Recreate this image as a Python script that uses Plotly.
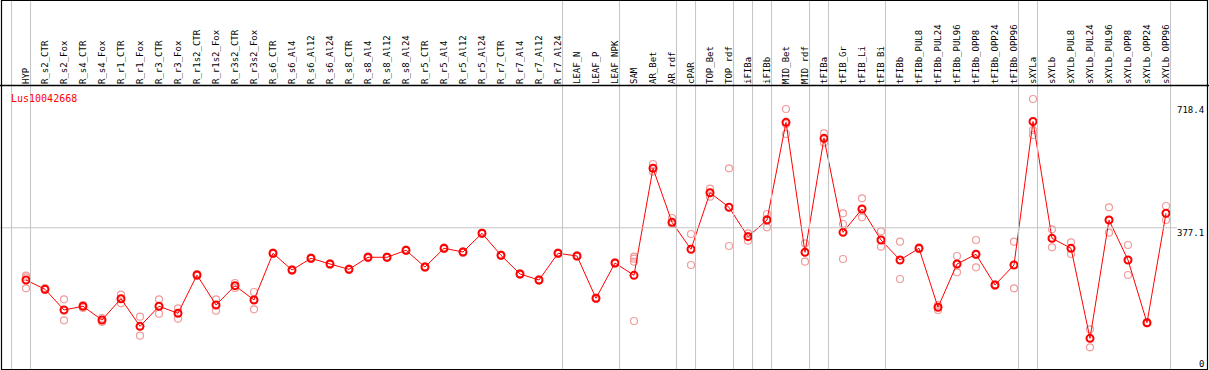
import plotly.graph_objects as go

gene_id = "Lus10042668"

samples = [
    "HYP", "R_s2_CTR", "R_s2_Fox", "R_s4_CTR", "R_s4_Fox", "R_r1_CTR", "R_r1_Fox",
    "R_r3_CTR", "R_r3_Fox", "R_r1s2_CTR", "R_r1s2_Fox", "R_r3s2_CTR", "R_r3s2_Fox",
    "R_s6_CTR", "R_s6_Al4", "R_s6_Al12", "R_s6_Al24", "R_s8_CTR", "R_s8_Al4",
    "R_s8_Al12", "R_s8_Al24", "R_r5_CTR", "R_r5_Al4", "R_r5_Al12", "R_r5_Al24",
    "R_r7_CTR", "R_r7_Al4", "R_r7_Al12", "R_r7_Al24", "LEAF_N", "LEAF_P", "LEAF_NPK",
    "SAM", "AR_Bet", "AR_rdf", "cPAR", "TOP_Bet", "TOP_rdf", "iFIBa", "iFIBb",
    "MID_Bet", "MID_rdf", "tFIBa", "tFIB_Gr", "tFIB_Li", "tFIB_Bi", "tFIBb",
    "tFIBb_PUL8", "tFIBb_PUL24", "tFIBb_PUL96", "tFIBb_OPP8", "tFIBb_OPP24",
    "tFIBb_OPP96", "sXYLa", "sXYLb", "sXYLb_PUL8", "sXYLb_PUL24", "sXYLb_PUL96",
    "sXYLb_OPP8", "sXYLb_OPP24", "sXYLb_OPP96",
]

means = [
    238.6, 213.9, 159.1, 168.9, 132.5, 189.0, 115.8, 168.9, 150.3, 251.8, 172.3,
    223.5, 185.6, 309.4, 265.1, 296.1, 281.0, 266.9, 298.8, 298.8, 317.3, 273.0,
    322.6, 312.8, 362.4, 304.1, 254.5, 238.6, 309.4, 302.2, 190.1, 283.6, 251.0,
    534.7, 391.5, 320.0, 470.0, 431.3, 353.4, 397.6, 656.6, 312.0, 614.2, 365.0,
    426.8, 344.6, 291.6, 322.6, 166.2, 281.0, 306.7, 225.3, 278.3, 658.7, 349.1,
    322.6, 84.0, 397.6, 291.6, 125.4, 415.4,
]

replicates = [
    [250.0, 245.7, 216.6], [217.4, 212.1, 213.4], [187.4, 159.1, 131.7],
    [172.3, 164.4, 169.7], [137.8, 127.2, 132.5], [199.6, 176.8, 188.2],
    [141.3, 90.9, 115.3], [187.4, 149.2, 169.7], [163.6, 136.0, 151.1],
    [254.5, 249.2, 251.8], [187.4, 157.2, 172.3], [230.6, 217.4, 222.7],
    [206.8, 160.9, 188.2], [311.0, 307.8, 309.4], [267.0, 263.2, 265.1],
    [298.0, 294.2, 296.1], [283.0, 279.0, 281.0], [269.0, 264.8, 266.9],
    [300.8, 296.8, 298.8], [300.5, 297.1, 298.8], [319.2, 315.4, 317.3],
    [275.0, 271.0, 273.0], [324.6, 320.6, 322.6], [314.8, 310.8, 312.8],
    [364.2, 360.6, 362.4], [306.0, 302.2, 304.1], [256.5, 252.5, 254.5],
    [240.5, 236.7, 238.6], [311.2, 307.6, 309.4], [304.0, 300.4, 302.2],
    [192.0, 188.2, 190.1], [285.5, 281.7, 283.6], [300.3, 295.0, 287.1, 129.9],
    [546.1, 525.7, 535.5], [402.9, 387.0, 392.3], [360.5, 278.3, 320.8],
    [480.6, 459.4, 470.0], [534.7, 328.7, 431.3], [362.4, 342.8, 355.2],
    [413.5, 378.3, 400.3], [691.9, 625.6, 652.1], [335.9, 287.1, 312.8],
    [627.5, 602.6, 613.7], [415.4, 387.0, 294.2], [455.2, 404.8, 425.5],
    [367.7, 326.9, 344.6], [340.1, 241.2, 291.6], [325.0, 320.2, 322.6],
    [172.3, 159.1, 167.0], [302.2, 259.0, 281.0], [344.6, 272.2, 304.9],
    [227.0, 223.6, 225.3], [340.1, 216.6, 278.3], [718.4, 636.2, 623.0],
    [373.0, 325.3, 348.6], [338.5, 307.5, 322.1], [107.9, 60.2, 83.5],
    [431.3, 364.0, 397.6], [331.4, 251.8, 291.6], [127.0, 123.8, 125.4],
    [434.7, 397.6, 414.9],
]

# a separator is drawn after each of these samples (and before the first one)
group_ends = ["HYP", "R_r7_Al24", "LEAF_NPK", "AR_rdf", "cPAR", "TOP_rdf", "iFIBa",
              "iFIBb", "MID_rdf", "tFIBa", "tFIB_Bi", "tFIBb_OPP96", "sXYLa",
              "sXYLb_OPP96"]

grid_value = 377.1
axis_labels = ["0", "377.1", "718.4"]
axis_values = [0, 377.1, 718.4]

RED = "#ff0000"
PINK = "#f09c9c"
GRAY = "#c4c4c4"
MONO = "DejaVu Sans Mono"

W, H = 1209, 370
TOP = 85
x_idx = list(range(len(samples)))

fig = go.Figure()

rx, ry = [], []
for i, reps in enumerate(replicates):
    for v in reps:
        rx.append(i)
        ry.append(v)

fig.add_trace(go.Scatter(
    x=rx, y=ry, mode="markers", hoverinfo="skip",
    marker=dict(symbol="circle-open", size=7, color=PINK, line=dict(width=1.2, color=PINK)),
))
fig.add_trace(go.Scatter(
    x=x_idx, y=means, mode="lines+markers",
    line=dict(color=RED, width=1),
    marker=dict(symbol="circle-open", size=7, color=RED, line=dict(width=2, color=RED)),
))

shapes = []
# vertical group separators spanning the full height
sep_pos = [-1] + [samples.index(s) for s in group_ends]
top_paper = 1 + TOP / (H - TOP)
for k in sep_pos:
    shapes.append(dict(type="line", xref="x", yref="paper", x0=k + 0.24, x1=k + 0.24,
                       y0=0, y1=top_paper, line=dict(color=GRAY, width=1)))
# horizontal grid line
shapes.append(dict(type="line", xref="paper", yref="y", x0=0, x1=1177 / W,
                   y0=grid_value, y1=grid_value, line=dict(color=GRAY, width=1)))
# frame
ph = H - TOP
shapes.append(dict(type="rect", xref="paper", yref="paper",
                   x0=1.5 / W, x1=1207.5 / W, y0=0.5 / ph, y1=1 + (TOP - 0.5) / ph,
                   line=dict(color="black", width=1.2), fillcolor="rgba(0,0,0,0)"))
shapes.append(dict(type="line", xref="paper", yref="paper", x0=0, x1=1,
                   y0=1 - 0.5 / ph, y1=1 - 0.5 / ph, line=dict(color="black", width=1.5)))

annotations = [dict(text=gene_id, xref="paper", yref="paper", x=9 / W, y=1,
                    xanchor="left", yanchor="top", yshift=-6, showarrow=False,
                    font=dict(family=MONO, size=10, color=RED))]
shifts = {"718.4": (-4, "top"), "377.1": (2, "top"), "0": (-1, "bottom")}
for lab, val in zip(axis_labels, axis_values):
    ys, ya = shifts[lab]
    annotations.append(dict(text=lab, xref="paper", yref="y", x=1, y=val,
                            xanchor="right", yanchor=ya, xshift=-3, yshift=ys,
                            showarrow=False, font=dict(family=MONO, size=9, color="black")))

scale = 271 / 718.4  # px per unit
fig.update_layout(
    width=W, height=H,
    margin=dict(l=0, r=0, t=TOP, b=0, pad=0),
    paper_bgcolor="white", plot_bgcolor="white",
    showlegend=False,
    xaxis=dict(range=[-26 / 19, (W - 26) / 19], side="top", tickmode="array",
               tickvals=x_idx, ticktext=samples, tickangle=-90, ticks="",
               showgrid=False, zeroline=False, showline=False,
               tickfont=dict(family=MONO, size=9, color="black")),
    yaxis=dict(range=[0, (H - TOP) / scale], visible=False, showgrid=False, zeroline=False),
    shapes=shapes, annotations=annotations,
)

fig.write_html("out.html", config={"displayModeBar": False},
               post_script="document.body.style.margin='0';document.body.style.overflow='hidden';")
